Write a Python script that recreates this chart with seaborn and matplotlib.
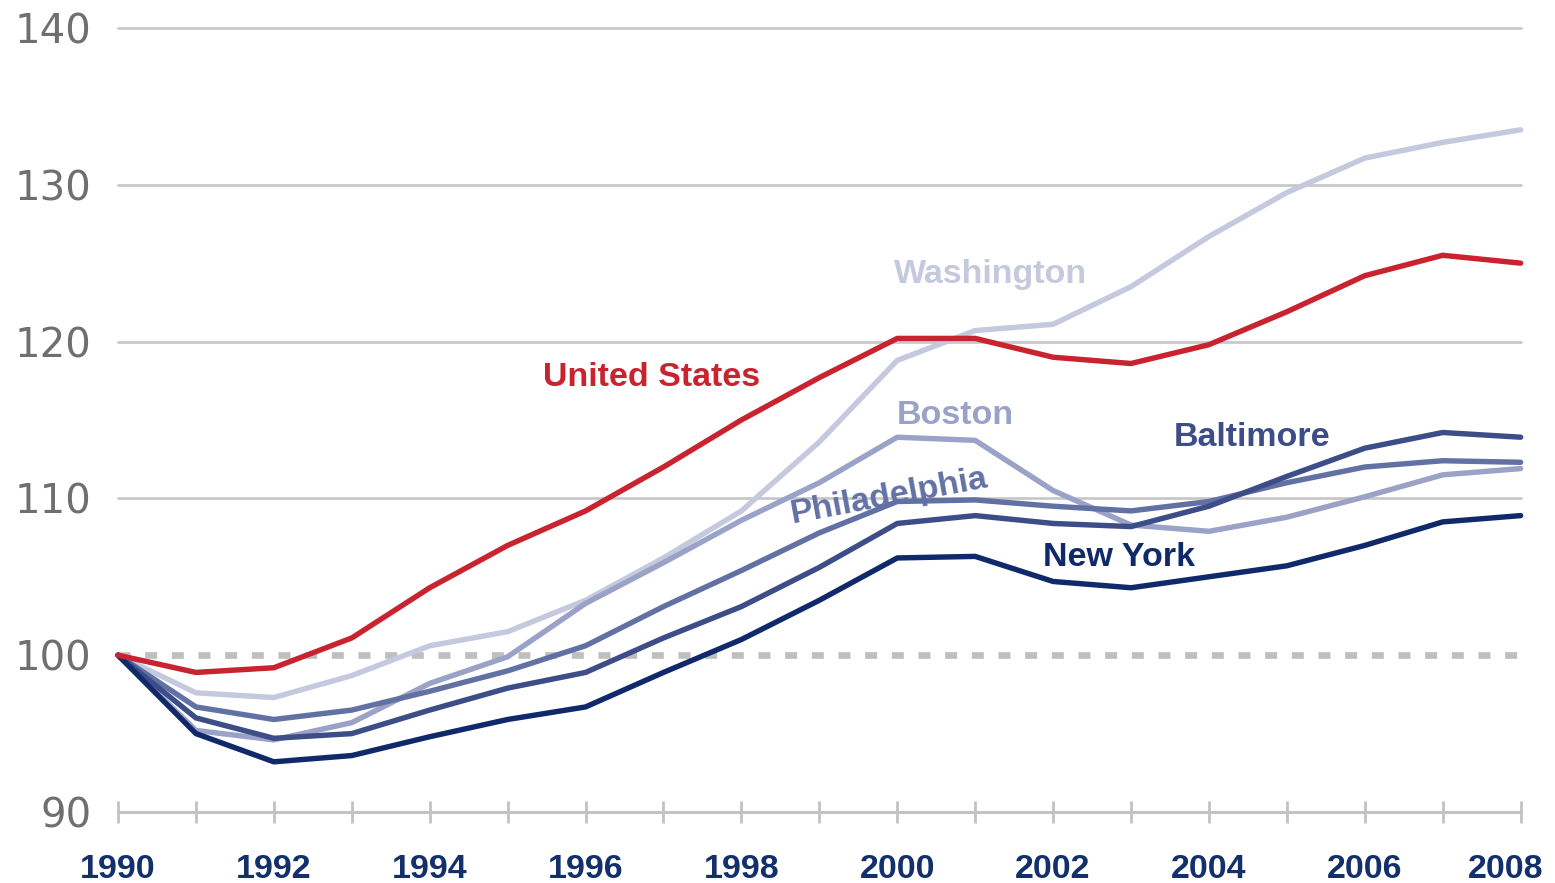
import matplotlib.pyplot as plt
import matplotlib.transforms as mtransforms
import pandas as pd
import seaborn as sns

# Index values (1990 = 100)
years = list(range(1990, 2009))
united_states = [100, 98.9, 99.2, 101.1, 104.3, 107.0, 109.2, 112.0, 115.0, 117.7,
                 120.2, 120.2, 119.0, 118.6, 119.8, 121.9, 124.2, 125.5, 125.0]
washington = [100, 97.6, 97.3, 98.7, 100.6, 101.5, 103.5, 106.2, 109.2, 113.6,
              118.8, 120.7, 121.1, 123.5, 126.7, 129.5, 131.7, 132.7, 133.5]
boston = [100, 95.2, 94.6, 95.7, 98.2, 99.9, 103.3, 105.9, 108.6, 111.0,
          113.9, 113.7, 110.5, 108.3, 107.9, 108.8, 110.1, 111.5, 111.9]
philadelphia = [100, 96.7, 95.9, 96.5, 97.7, 99.0, 100.6, 103.1, 105.4, 107.8,
                109.8, 109.9, 109.5, 109.2, 109.8, 111.0, 112.0, 112.4, 112.3]
baltimore = [100, 96.0, 94.7, 95.0, 96.5, 97.9, 98.9, 101.1, 103.1, 105.6,
             108.4, 108.9, 108.4, 108.2, 109.5, 111.4, 113.2, 114.2, 113.9]
new_york = [100, 95.0, 93.2, 93.6, 94.8, 95.9, 96.7, 98.9, 101.0, 103.5,
            106.2, 106.3, 104.7, 104.3, 105.0, 105.7, 107.0, 108.5, 108.9]

series_names = ["Washington", "Boston", "Philadelphia", "Baltimore", "New York", "United States"]
series_values = [washington, boston, philadelphia, baltimore, new_york, united_states]
y_ticks = [90, 100, 110, 120, 130, 140]
x_tick_labels = list(range(1990, 2009, 2))

COLORS = {
    "Washington": "#c4c9de",
    "Boston": "#9aa2c8",
    "Philadelphia": "#6271a4",
    "Baltimore": "#3c4d88",
    "New York": "#10296a",
    "United States": "#c8232e",
}

# label placement (data coords) and rotation
LABELS = {
    "Washington": (2001.2, 124.3, 0),
    "United States": (1996.85, 117.7, 0),
    "Boston": (2000.75, 115.3, 0),
    "Philadelphia": (1999.9, 110.1, 10.5),
    "Baltimore": (2004.55, 113.85, 0),
    "New York": (2002.85, 106.2, 0),
}


def main() -> None:
    df = pd.concat(
        [pd.DataFrame({"year": years, "index": vals, "area": name})
         for name, vals in zip(series_names, series_values)],
        ignore_index=True,
    )

    sns.set_style("white")
    plt.rcParams["font.family"] = ["Liberation Sans", "DejaVu Sans"]

    fig = plt.figure(figsize=(15.55, 8.83), dpi=100)
    ax = fig.add_axes([0.0759, 0.0804, 0.902, 0.888])

    # grid lines and dashed baseline
    for y in y_ticks[2:]:
        ax.axhline(y, color="#c6c6c6", lw=1.9, zorder=0, clip_on=False)
    ax.plot([1990, 2008], [100, 100], color="#bfbfbf", lw=4.8,
            dashes=(1.8, 2.2), zorder=1, clip_on=False)

    sns.lineplot(
        data=df, x="year", y="index", hue="area",
        hue_order=series_names, palette=COLORS,
        linewidth=3.9, legend=False, ax=ax, zorder=3,
    )
    for line in ax.lines:
        line.set_clip_on(False)
        line.set_solid_joinstyle("round")

    for name, (x, y, rot) in LABELS.items():
        ax.text(x, y, name, color=COLORS[name], fontsize=24.5, fontweight="bold",
                ha="center", va="center", rotation=rot, rotation_mode="anchor")

    ax.set_xlim(1990, 2008)
    ax.set_ylim(90, 140)
    ax.set_xlabel("")
    ax.set_ylabel("")

    for side in ["top", "right", "left"]:
        ax.spines[side].set_visible(False)
    ax.spines["bottom"].set_color("#c2c2c2")
    ax.spines["bottom"].set_linewidth(2.2)

    ax.set_xticks(years)
    ax.set_xticklabels([str(y) if y in x_tick_labels else "" for y in years])
    ax.tick_params(axis="x", bottom=True, direction="inout", length=16, width=2,
                   color="#c2c2c2", pad=22, labelsize=24.5, labelcolor="#14306a")
    for lbl in ax.get_xticklabels():
        lbl.set_fontweight("bold")
    # nudge the last year label inward so it stays on the canvas
    last = ax.get_xticklabels()[-1]
    last.set_transform(last.get_transform() +
                       mtransforms.ScaledTranslation(-0.15, 0, fig.dpi_scale_trans))

    ax.set_yticks(y_ticks)
    ax.tick_params(axis="y", left=False, length=0, pad=19, labelsize=29,
                   labelcolor="#6f6f6f")
    for lbl in ax.get_yticklabels():
        lbl.set_family(["DejaVu Sans"])

    fig.savefig("out.png", dpi=100)


if __name__ == "__main__":
    main()
